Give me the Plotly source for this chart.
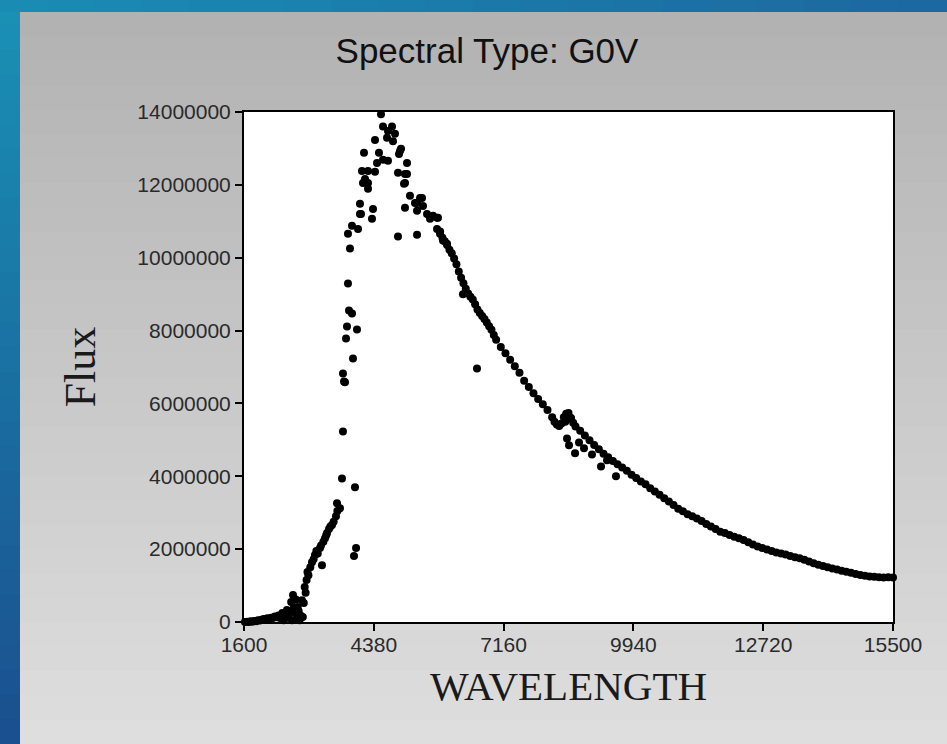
import plotly.graph_objects as go

# ---------------- data ----------------
wavelength = [
    # UV / low flux
    1620, 1660, 1700, 1740, 1780, 1820, 1860, 1900, 1940, 1980, 2020, 2060, 2100, 2140,
    2180, 2220, 2260, 2300, 2340, 2380, 2420, 2450, 2480, 2520, 2550, 2580, 2610, 2630,
    2650, 2670, 2690, 2710, 2730, 2750, 2770, 2790, 2810, 2840, 2860, 2880, 2900, 2920,
    2940, 2960, 2980,
    # steep rise
    3020, 3056, 3090, 3120, 3150, 3180, 3228, 3250, 3270, 3300, 3335, 3360, 3378, 3420,
    3450, 3485, 3520, 3570, 3600, 3656, 3592, 3699, 3720, 3763, 3742, 3720, 3977, 4000,
    3956,
    # scattered peak region
    3934, 3785, 3806, 4020, 3849, 3913, 3827, 3870, 3827, 3913, 4042, 4084, 4106, 4084,
    4341, 4363, 4149, 4192, 4256, 4256, 4127, 4256, 4406, 4170, 4406, 4449, 4491, 4534,
    4577, 4577, 4663, 4684, 4684, 4770, 4791, 4834, 4941, 4920, 4963, 4898, 5048, 5091,
    5091, 5027, 5048, 5155, 5262, 5370, 5413, 5306, 5048, 5306, 5434, 5520, 5584, 5734,
    4898, 5306, 5734, 5798, 5648, 5755, 5862, 5948,
    # descending shoulder
    5800, 5850, 5900, 5950, 6000, 6050, 6100, 6150, 6200, 6250, 6300, 6350, 6400, 6450,
    6500, 6550, 6600, 6650, 6700, 6750, 6800, 6850, 6900, 6950, 6290, 6590,
    # smooth decline
    7000, 7100, 7200, 7300, 7400, 7500, 7600, 7700, 7800, 7900, 8000, 8100, 8200, 8250,
    8300, 8350, 8400, 8450, 8500, 8550, 8600, 8650, 8700, 8800, 8900, 9000, 9100, 9200,
    9300, 9400, 9500, 9600, 9700, 9800, 9900,
    # scatter below the bump
    8518, 8561, 8690, 8775, 8882, 9053, 9246, 9567, 9375, 8600, 8480,
    # long tail
    10000, 10100, 10200, 10300, 10400, 10500, 10600, 10700, 10800, 10900, 11000, 11100,
    11200, 11300, 11400, 11500, 11600, 11700, 11800, 11900, 12000, 12100, 12200, 12300,
    12400, 12500, 12600, 12700, 12800, 12900, 13000, 13100, 13200, 13300, 13400, 13500,
    13600, 13700, 13800, 13900, 14000, 14100, 14200, 14300, 14400, 14500, 14600, 14700,
    14800, 14900, 15000, 15100, 15200, 15300, 15400, 15500,
]

flux_millions = [
    0.00, 0.01, 0.00, 0.02, 0.01, 0.03, 0.02, 0.05, 0.04, 0.06, 0.08, 0.07, 0.10, 0.09,
    0.12, 0.11, 0.15, 0.13, 0.18, 0.10, 0.25, 0.05, 0.20, 0.33, 0.12, 0.28, 0.55, 0.05,
    0.74, 0.40, 0.25, 0.62, 0.08, 0.41, 0.30, 0.05, 0.18, 0.60, 0.14, 0.52, 0.96, 0.80,
    1.15, 1.37, 1.28,
    1.50, 1.64, 1.72, 1.84, 1.95, 1.88, 2.03, 2.10, 1.56, 2.20, 2.30, 2.38, 2.44, 2.55,
    2.62, 2.66, 2.75, 2.90, 3.05, 3.12, 3.26, 3.94, 5.23, 6.58, 6.60, 6.82, 3.70, 2.03,
    1.81,
    7.23, 7.78, 8.11, 8.03, 8.55, 8.47, 9.29, 10.25, 10.66, 10.88, 10.79, 11.20, 11.20, 11.48,
    11.07, 11.34, 12.05, 12.16, 12.05, 11.89, 12.38, 12.38, 12.36, 12.88, 13.23, 12.60, 12.88, 13.94,
    13.60, 12.69, 13.29, 13.48, 12.66, 13.60, 13.20, 13.40, 12.93, 12.85, 12.99, 12.33, 12.30, 12.60,
    12.30, 12.03, 12.05, 11.70, 11.50, 11.64, 11.64, 11.29, 11.37, 11.50, 11.42, 11.20, 11.07, 11.10,
    10.58, 10.63, 10.79, 10.66, 11.15, 11.10, 10.47, 10.38,
    10.72, 10.55, 10.45, 10.35, 10.22, 10.12, 9.98, 9.82, 9.62, 9.45, 9.30, 9.15, 9.02, 8.93,
    8.85, 8.72, 8.58, 8.48, 8.40, 8.32, 8.22, 8.12, 8.02, 7.88, 9.00, 6.96,
    7.75, 7.55, 7.38, 7.20, 7.02, 6.84, 6.62, 6.45, 6.28, 6.12, 5.98, 5.82, 5.62, 5.50,
    5.42, 5.38, 5.45, 5.62, 5.72, 5.74, 5.60, 5.47, 5.37, 5.25, 5.12, 4.99, 4.86, 4.74,
    4.62, 4.52, 4.42, 4.33, 4.24, 4.15, 4.04,
    5.04, 4.85, 4.63, 4.93, 4.77, 4.60, 4.27, 4.00, 4.44, 5.60, 5.50,
    3.95, 3.86, 3.78, 3.67, 3.58, 3.49, 3.40, 3.31, 3.21, 3.11, 3.04, 2.96,
    2.90, 2.84, 2.77, 2.69, 2.62, 2.55, 2.48, 2.44, 2.39, 2.34, 2.30, 2.25,
    2.19, 2.13, 2.07, 2.03, 1.99, 1.95, 1.91, 1.88, 1.85, 1.81, 1.78, 1.75,
    1.71, 1.66, 1.61, 1.57, 1.54, 1.50, 1.47, 1.44, 1.41, 1.38, 1.35, 1.32,
    1.29, 1.27, 1.25, 1.24, 1.23, 1.22, 1.23, 1.22,
]

x_ticks = [1600, 4380, 7160, 9940, 12720, 15500]
y_ticks = [0, 2000000, 4000000, 6000000, 8000000, 10000000, 12000000, 14000000]

flux = [v * 1_000_000 for v in flux_millions]

# ---------------- layout geometry ----------------
W, H = 947, 744
L, R, T, B = 244, 54, 112, 122
PW, PH = W - L - R, H - T - B


def px_x(p):
    return (p - L) / PW


def px_y(p):
    return (H - B - p) / PH


def lerp_color(c1, c2, t):
    return "rgb(%d,%d,%d)" % tuple(round(a + (b - a) * t) for a, b in zip(c1, c2))


shapes = []
# grey gradient panel
n = 30
top_y, bot_y = 12, 744
for i in range(n):
    y0 = top_y + (bot_y - top_y) * i / n
    y1 = top_y + (bot_y - top_y) * (i + 1) / n + 1
    col = lerp_color((178, 178, 178), (222, 222, 222), i / (n - 1))
    shapes.append(dict(type="rect", xref="paper", yref="paper", layer="below",
                       x0=px_x(20), x1=px_x(W + 2), y0=px_y(y1), y1=px_y(y0),
                       fillcolor=col, line=dict(width=0)))
# blue left strip
for i in range(n):
    y0 = H * i / n
    y1 = H * (i + 1) / n + 1
    col = lerp_color((26, 144, 181), (26, 80, 143), i / (n - 1))
    shapes.append(dict(type="rect", xref="paper", yref="paper", layer="below",
                       x0=px_x(-2), x1=px_x(20), y0=px_y(y1), y1=px_y(y0),
                       fillcolor=col, line=dict(width=0)))
# blue top strip
m = 20
for i in range(m):
    x0 = W * i / m
    x1 = W * (i + 1) / m + 1
    col = lerp_color((26, 140, 180), (28, 104, 160), i / (m - 1))
    shapes.append(dict(type="rect", xref="paper", yref="paper", layer="below",
                       x0=px_x(x0), x1=px_x(x1), y0=px_y(12), y1=px_y(-2),
                       fillcolor=col, line=dict(width=0)))
# white plot area
shapes.append(dict(type="rect", xref="paper", yref="paper", layer="below",
                   x0=0, x1=1, y0=0, y1=1, fillcolor="white", line=dict(width=0)))

fig = go.Figure()
fig.add_trace(go.Scatter(
    x=wavelength, y=flux, mode="markers",
    marker=dict(color="black", size=8, line=dict(width=0)),
    cliponaxis=False,
))

tick_font = dict(family="Liberation Sans, Arial, sans-serif", size=21, color="#2a2a2a")

fig.update_layout(
    width=W, height=H, autosize=False,
    margin=dict(l=L, r=R, t=T, b=B, pad=0),
    paper_bgcolor="#c8c8c8", plot_bgcolor="white",
    showlegend=False,
    shapes=shapes,
    title=dict(text="Spectral Type: G0V", xref="container", yref="container",
               x=487 / W, y=1 - 51 / H, xanchor="center", yanchor="middle",
               font=dict(family="Liberation Sans, Arial, sans-serif", size=35, color="#111111")),
    xaxis=dict(range=[1600, 15500], tickmode="array", tickvals=x_ticks,
               ticktext=[str(v) for v in x_ticks],
               showgrid=False, zeroline=False, ticks="outside", ticklen=7, tickwidth=1.5,
               tickcolor="black", showline=True, linecolor="black", linewidth=2, mirror=True,
               tickfont=tick_font, ticklabelstandoff=-4,
               title=dict(text="WAVELENGTH", standoff=16,
                          font=dict(family="Liberation Serif, Times New Roman, serif", size=41,
                                    color="#1a1a1a"))),
    yaxis=dict(range=[0, 14000000], tickmode="array", tickvals=y_ticks,
               ticktext=[str(v) for v in y_ticks],
               showgrid=False, zeroline=False, ticks="outside", ticklen=7, tickwidth=1.5,
               tickcolor="black", showline=True, linecolor="black", linewidth=2, mirror=True,
               tickfont=tick_font,
               title=dict(text="Flux", standoff=28,
                          font=dict(family="Liberation Serif, Times New Roman, serif", size=44,
                                    color="#1a1a1a"))),
)

fig.write_html("out.html")
